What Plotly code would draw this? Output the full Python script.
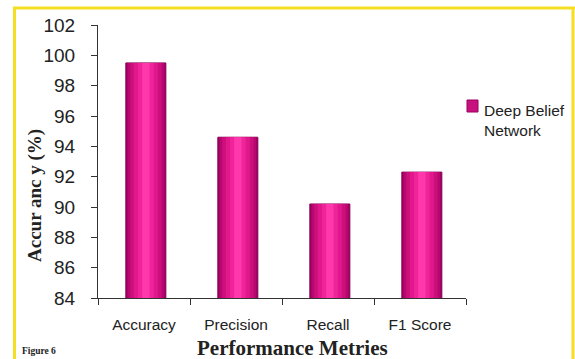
import plotly.graph_objects as go

categories = ["Accuracy", "Precision", "Recall", "F1 Score"]
values = [99.5, 94.6, 90.2, 92.3]
series_name = "Deep Belief<br>Network"
y_ticks = [84, 86, 88, 90, 92, 94, 96, 98, 100, 102]

W, H = 575, 359
L, R, T, B = 98, 109, 25, 61
pw = W - L - R
ph = H - T - B

def px(x):
    return (x - L) / pw

def py(y):
    return 1 - (y - T) / ph

fig = go.Figure()

# cylinder-like shading layers (outer to inner)
layers = [
    (0.435, "#9A0060", True),
    (0.40, "#B8086F", False),
    (0.34, "#CC0F7C", False),
    (0.26, "#E0188C", False),
    (0.17, "#F0249A", False),
    (0.08, "#FF38AC", False),
]
for w, c, show in layers:
    fig.add_trace(go.Bar(
        x=categories, y=values, width=w, name=series_name,
        marker=dict(color=c, line=dict(color="#8A0055", width=1 if show else 0)),
        showlegend=False, hoverinfo="skip" if not show else None,
        offset=-w / 2 + 0.02,
    ))

fig.update_layout(
    width=W, height=H, barmode="overlay",
    margin=dict(l=L, r=R, t=T, b=B),
    paper_bgcolor="white", plot_bgcolor="white",
    font=dict(family="Liberation Sans, Arial", color="#222"),
    xaxis=dict(showline=True, linecolor="#333", linewidth=1, ticks="outside",
               tickson="boundaries", ticklen=6, tickcolor="#333",
               ticklabelstandoff=12,
               tickfont=dict(size=15.5, color="#222"), showgrid=False),
    yaxis=dict(range=[84, 102], tickvals=y_ticks, showline=True, linecolor="#333",
               linewidth=1, ticks="outside", ticklen=6, tickcolor="#333",
               ticklabelstandoff=12,
               tickfont=dict(size=19, color="#222"), showgrid=False, zeroline=False),
    showlegend=False,
)

# manual legend
fig.add_shape(type="rect", xref="paper", yref="paper", x0=px(467), x1=px(478),
              y0=py(112), y1=py(100), fillcolor="#C8107E", line=dict(color="#9A0060", width=1))
fig.add_annotation(text=series_name, xref="paper", yref="paper", x=px(482), y=py(100),
                   xanchor="left", yanchor="top", align="left", showarrow=False,
                   font=dict(size=15.5, color="#222"))

# yellow frame
yc = "#F5DF22"
fig.add_shape(type="line", xref="paper", yref="paper", x0=px(14.5), x1=px(14.5),
              y0=py(8), y1=py(H + 5), line=dict(color=yc, width=3))
fig.add_shape(type="line", xref="paper", yref="paper", x0=px(13), x1=px(575),
              y0=py(8), y1=py(8), line=dict(color=yc, width=3))
fig.add_shape(type="line", xref="paper", yref="paper", x0=px(573), x1=px(573),
              y0=py(8), y1=py(H + 5), line=dict(color=yc, width=3))

fig.add_annotation(text="<b>Accur anc y (%)</b>", xref="paper", yref="paper",
                   x=px(35), y=py(195), xanchor="center", yanchor="middle",
                   textangle=-90, showarrow=False,
                   font=dict(family="Liberation Serif, Times New Roman", size=19, color="#222"))
fig.add_annotation(text="<b>Performance Metries</b>", xref="paper", yref="paper",
                   x=px(292), y=py(348), xanchor="center", yanchor="middle", showarrow=False,
                   font=dict(family="Liberation Serif, Times New Roman", size=21, color="#222"))
fig.add_annotation(text="<b>Figure 6</b>", xref="paper", yref="paper",
                   x=px(20), y=py(351), xanchor="left", yanchor="middle", showarrow=False,
                   font=dict(family="Liberation Serif, Times New Roman", size=9.5, color="#222"))

fig.write_html("out.html")
